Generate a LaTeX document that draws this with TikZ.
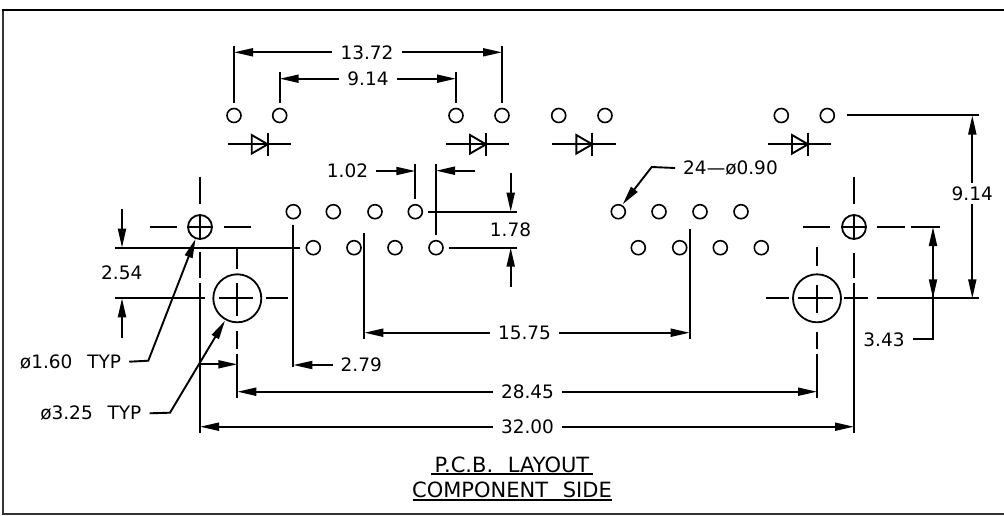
\documentclass[tikz,border=0pt]{standalone}
\usepackage{fontspec}
\setmainfont{DejaVu Sans}
\usetikzlibrary{arrows.meta}
\colorlet{myframe}{black!80}
\tikzset{
  >=Triangle,
  hole/.style={draw,circle,line width=1.6,minimum size=14,inner sep=0,outer sep=6},
  hole big/.style={draw,circle,line width=1.8,minimum size=48,inner sep=0,outer sep=0},
  hole mid/.style={draw,circle,line width=1.8,minimum size=24,inner sep=0,outer sep=0},
  connect/.style={line width=1.9},
  connect arrow/.style={-{Triangle[length=19,width=8]},line width=1.9},
  dim label/.style={font=\fontsize{18.5}{21}\selectfont,inner xsep=8,inner ysep=1},
  title label/.style={font=\fontsize{21}{23}\selectfont,inner sep=0,text depth=0pt},
  diode/.pic={
    \draw[connect] (-40,0) -- (23.3,0);
    \draw[connect] (0,-11.7) -- (0,11.7);
    \draw[connect] (-16,-9.3) -- (0,0) -- (-16,9.3) -- cycle;
  }
}
\begin{document}
\begin{tikzpicture}[x=1pt,y=-1pt]
    \useasboundingbox (0,0) rectangle (1004,515);
    \draw[line width=2,myframe] (2.5,9.7) -- (2.5,513.8) -- (1004,513.8);
    \draw[line width=2] (1.5,9.7) -- (1004,9.7);

    % holes, top row
    \node[hole] (t1) at (234,115.5) {};
    \node[hole] (t2) at (279.7,115.5) {};
    \node[hole] (t3) at (456,115.5) {};
    \node[hole] (t4) at (502,115.5) {};
    \node[hole] (t5) at (558.7,115.5) {};
    \node[hole] (t6) at (605,115.5) {};
    \node[hole] (t7) at (781.3,115.5) {};
    \node[hole] (t8) at (827.3,115.5) {};
    % holes, connector rows
    \node[hole] (a1) at (293.3,211.7) {};
    \node[hole] (a2) at (333.3,211.7) {};
    \node[hole] (a3) at (375,211.7) {};
    \node[hole] (a4) at (415.3,211.7) {};
    \node[hole] (a5) at (618.3,211.7) {};
    \node[hole] (a6) at (659,211.7) {};
    \node[hole] (a7) at (700,211.7) {};
    \node[hole] (a8) at (741,211.7) {};
    \node[hole] (b1) at (313.3,247.7) {};
    \node[hole] (b2) at (354,247.7) {};
    \node[hole] (b3) at (395,247.7) {};
    \node[hole] (b4) at (436,247.7) {};
    \node[hole] (b5) at (638.3,247.7) {};
    \node[hole] (b6) at (679.7,247.7) {};
    \node[hole] (b7) at (720.3,247.7) {};
    \node[hole] (b8) at (761.3,247.7) {};
    % mounting holes
    \node[hole mid] (ml) at (200,227) {};
    \node[hole mid] (mr) at (854,227) {};
    \node[hole big] (gl) at (237.3,298.3) {};
    \node[hole big] (gr) at (817,298.3) {};

    \pic at (267.7,144.3) {diode};
    \pic at (486,144.3) {diode};
    \pic at (592.3,144.3) {diode};
    \pic at (808,144.3) {diode};

    % center lines
    \draw[connect] (200,176.7) -- (200,204);
    \draw[connect] (200,214.5) -- (200,239.5);
    \draw[connect] (200,251.7) -- (200,278.3);
    \draw[connect] (200,283.3) -- (200,433.3);
    \draw[connect] (149.7,227) -- (176.7,227);
    \draw[connect] (187.5,227) -- (212.5,227);
    \draw[connect] (224,227) -- (250.7,227);
    \draw[connect] (854,176.7) -- (854,204);
    \draw[connect] (854,214.5) -- (854,239.5);
    \draw[connect] (854,253.3) -- (854,278);
    \draw[connect] (854,283.3) -- (854,433.3);
    \draw[connect] (803.3,227) -- (830,227);
    \draw[connect] (841.5,227) -- (866.5,227);
    \draw[connect] (876.7,227) -- (904.7,227);
    \draw[connect] (237.3,247.7) -- (237.3,269);
    \draw[connect] (237.3,283.3) -- (237.3,315.7);
    \draw[connect] (237.3,331) -- (237.3,349.3);
    \draw[connect] (237.3,354.3) -- (237.3,398.3);
    \draw[connect] (219.3,298.3) -- (253.3,298.3);
    \draw[connect] (265.7,298.3) -- (288.3,298.3);
    \draw[connect] (817,247.3) -- (817,266);
    \draw[connect] (817,285) -- (817,313.3);
    \draw[connect] (817,331.7) -- (817,349.3);
    \draw[connect] (817,354.3) -- (817,398.3);
    \draw[connect] (766.3,298.3) -- (789,298.3);
    \draw[connect] (798.3,298.3) -- (833,298.3);
    \draw[connect] (844,298.3) -- (868,298.3);

    % extension lines
    \draw[connect] (t1) -- (234,46);
    \draw[connect] (t2) -- (279.7,71.7);
    \draw[connect] (t3) -- (456,71.7);
    \draw[connect] (t4) -- (502,46);
    \draw[connect] (a4) -- (415.3,163.7);
    \draw[connect] (b4) -- (436,163.7);
    \draw[connect] (a4) -- (517.3,211.7);
    \draw[connect] (b4) -- (517.3,247.7);
    \draw[connect] (a1) -- (293.3,366.7);
    \draw[connect] (b1) -- (115,247.7);
    \draw[connect] (115,298.3) -- (205,298.3);
    \draw[connect] (364.3,233.3) -- (364.3,339.3);
    \draw[connect] (689.7,229.3) -- (689.7,339.3);
    \draw[connect] (846.7,115.1) -- (979,115.1);
    \draw[connect] (877.3,298.3) -- (979,298.3);
    \draw[connect] (910.7,227) -- (939.7,227);

    % dimensions
    \node[dim label] (d1372) at (367,52.3) {13.72};
    \draw[connect arrow] (d1372) -- (234,52.3);
    \draw[connect arrow] (d1372) -- (502,52.3);
    \node[dim label] (d914) at (368,78.7) {9.14};
    \draw[connect arrow] (d914) -- (279.7,78.7);
    \draw[connect arrow] (d914) -- (456,78.7);
    \node[dim label] (d102) at (347.5,171) {1.02};
    \draw[connect arrow] (d102) -- (415.3,171);
    \coordinate (d102r) at (475,170.7);
    \draw[connect arrow] (d102r) -- (436,170.7);
    \node[dim label] (d178) at (510.5,230) {1.78};
    \coordinate (d178u) at (510.7,173);
    \coordinate (d178d) at (510.7,286.7);
    \draw[connect arrow] (d178u) -- (510.7,211.7);
    \draw[connect arrow] (d178d) -- (510.7,247.7);
    \node[dim label] (d254) at (121.7,273) {2.54};
    \coordinate (d254u) at (122,208.7);
    \coordinate (d254d) at (122,337.7);
    \draw[connect arrow] (d254u) -- (122,247.7);
    \draw[connect arrow] (d254d) -- (122,298.3);
    \node[dim label] (d279) at (361.3,365) {2.79};
    \draw[connect arrow] (d279) -- (293.3,365);
    \coordinate (d279l) at (199,364.3);
    \draw[connect arrow] (d279l) -- (237.3,364.3);
    \node[dim label] (d1575) at (524.5,332.7) {15.75};
    \draw[connect arrow] (d1575) -- (364.3,332.7);
    \draw[connect arrow] (d1575) -- (689.7,332.7);
    \node[dim label] (d2845) at (527.5,391.7) {28.45};
    \draw[connect arrow] (d2845) -- (237.3,391.7);
    \draw[connect arrow] (d2845) -- (817,391.7);
    \node[dim label] (d3200) at (527.5,426.7) {32.00};
    \draw[connect arrow] (d3200) -- (200,426.7);
    \draw[connect arrow] (d3200) -- (854,426.7);
    \node[dim label,inner ysep=3] (d914r) at (972.3,193.3) {9.14};
    \draw[connect arrow] (d914r) -- (972.3,115.5);
    \draw[connect arrow] (d914r) -- (972.3,298.3);
    \node[dim label] (d343) at (884,339.3) {3.43};
    \draw[connect] (d343) -- (933,339.3) -- (933,240);
    \coordinate (d343m) at (933,240);
    \draw[connect arrow] (d343m) -- (933,227);
    \draw[connect arrow] (933,270) -- (933,298.3);

    % leaders
    \node[dim label] (l090) at (730.5,168) {24—ø0.90};
    \draw[connect arrow] (l090.west) -- (651.7,167) -- (622.7,204.3);
    \node[dim label] (l160) at (70.5,361.7) {ø1.60\hspace{.8em}TYP};
    \draw[connect arrow] (l160.east) -- (148.3,360.7) -- (195.5,239);
    \node[dim label] (l325) at (90.8,413.3) {ø3.25\hspace{.8em}TYP};
    \draw[connect arrow] (l325.east) -- (170,412.7) -- (225,320.7);

    % title
    \node[title label] (title1) at (512,464.3) {P.C.B.\hspace{.7em}LAYOUT};
    \node[title label] (title2) at (512,489.3) {COMPONENT\hspace{.7em}SIDE};
    \draw[connect] (430.7,474.3) -- (593.3,474.3);
    \draw[connect] (412.7,500) -- (611.7,500);
\end{tikzpicture}
\end{document}
